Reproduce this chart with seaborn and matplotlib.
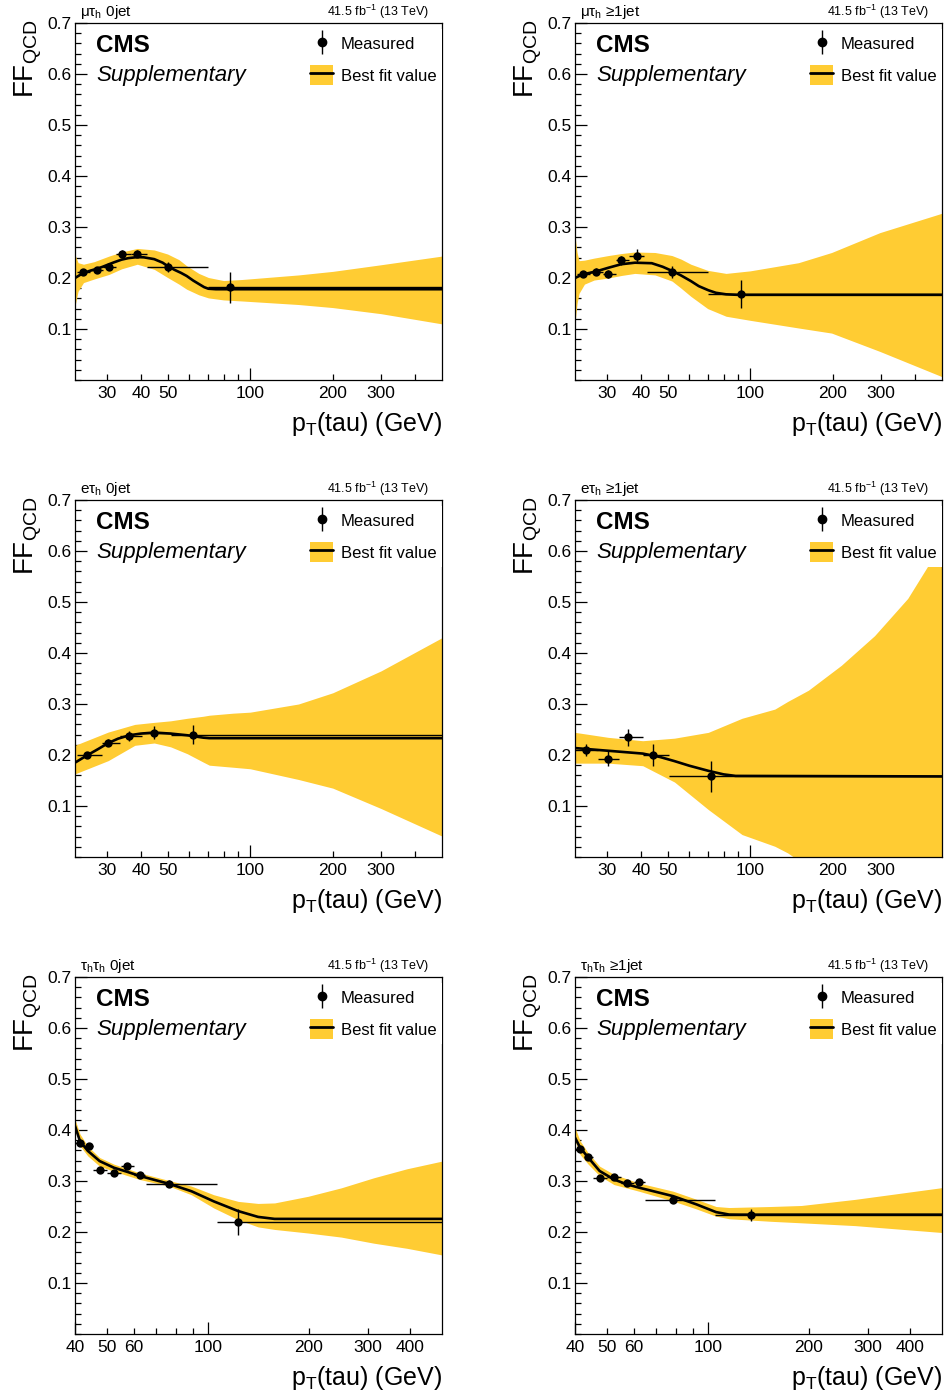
import numpy as np
import matplotlib
matplotlib.use("Agg")
import matplotlib.pyplot as plt
from matplotlib.ticker import FixedLocator, FixedFormatter, MultipleLocator
from matplotlib.lines import Line2D
from matplotlib.patches import Patch
from matplotlib.legend_handler import HandlerTuple
import seaborn as sns

# ---------------- data ----------------
# mu tau_h 0jet
mt0_x = [24.5, 27.6, 30.6, 34.0, 38.8, 50.0, 84.4]
mt0_y = [0.212, 0.215, 0.222, 0.248, 0.248, 0.2215, 0.1815]
mt0_xlo = [23.3, 26.0, 29.0, 32.5, 36.9, 42.1, 70.4]
mt0_xhi = [26.0, 29.0, 32.5, 36.9, 42.1, 70.4, 500]
mt0_yerr = [0.005, 0.005, 0.006, 0.006, 0.007, 0.010, 0.031]
mt0_fit_x = [23, 24.5, 26, 27.6, 29, 30.6, 32, 34, 36, 38.8, 41, 44.7, 48, 50, 53, 56, 58.7, 62, 65.6, 68, 70.4, 75, 500]
mt0_fit_y = [0.200, 0.209, 0.214, 0.218, 0.222, 0.227, 0.231, 0.236, 0.239, 0.241, 0.2405, 0.237, 0.230, 0.2235, 0.216, 0.210, 0.204, 0.195, 0.187, 0.182, 0.179, 0.178, 0.178]
mt0_band_x = [23, 23.6, 24.7, 27, 30.6, 34, 38.8, 44.7, 50, 55, 58.7, 65, 70.4, 80, 93, 150, 200, 300, 500]
mt0_band_hi = [0.246, 0.230, 0.227, 0.232, 0.243, 0.251, 0.258, 0.255, 0.247, 0.236, 0.224, 0.209, 0.201, 0.195, 0.197, 0.206, 0.213, 0.226, 0.243]
mt0_band_lo = [0.145, 0.174, 0.191, 0.198, 0.207, 0.218, 0.227, 0.217, 0.201, 0.188, 0.178, 0.167, 0.161, 0.157, 0.155, 0.148, 0.142, 0.130, 0.110]

# mu tau_h >=1jet
mt1_x = [24.5, 27.5, 30.4, 33.8, 38.6, 51.7, 92.6]
mt1_y = [0.207, 0.212, 0.208, 0.235, 0.243, 0.212, 0.169]
mt1_xlo = [23.3, 26.0, 29.0, 32.4, 36.3, 42.0, 70.0]
mt1_xhi = [26.0, 29.0, 32.4, 36.3, 41.2, 70.0, 500]
mt1_yerr = [0.006, 0.007, 0.008, 0.009, 0.014, 0.012, 0.028]
mt1_fit_x = [23, 24.5, 26, 27.5, 30.4, 33.9, 38, 43.8, 48, 51.9, 56, 60.8, 65, 70.4, 75, 81.7, 90, 500]
mt1_fit_y = [0.200, 0.207, 0.210, 0.213, 0.220, 0.227, 0.230, 0.229, 0.222, 0.214, 0.205, 0.194, 0.184, 0.176, 0.171, 0.168, 0.167, 0.167]
mt1_band_x = [23, 23.4, 23.8, 24.9, 27, 30.4, 34, 38, 45, 51.9, 56, 60.8, 70, 81.7, 100, 150, 198, 297, 500]
mt1_band_hi = [0.283, 0.250, 0.234, 0.235, 0.239, 0.244, 0.248, 0.251, 0.250, 0.244, 0.237, 0.227, 0.215, 0.209, 0.214, 0.230, 0.250, 0.289, 0.327]
mt1_band_lo = [0.112, 0.150, 0.170, 0.188, 0.196, 0.200, 0.205, 0.209, 0.206, 0.194, 0.180, 0.164, 0.140, 0.125, 0.117, 0.102, 0.092, 0.056, 0.0065]

# e tau_h 0jet
et0_x = [25.4, 30.4, 36.3, 44.7, 62.0]
et0_y = [0.2006, 0.224, 0.237, 0.244, 0.240]
et0_xlo = [23.3, 28.8, 33.5, 40.2, 51.3]
et0_xhi = [28.8, 33.5, 40.2, 51.3, 500]
et0_yerr = [0.006, 0.007, 0.010, 0.013, 0.019]
et0_fit_x = [23, 25.4, 28, 30.4, 33, 36.3, 40, 44.7, 51.3, 59, 67.5, 71, 500]
et0_fit_y = [0.185, 0.199, 0.212, 0.2235, 0.232, 0.2387, 0.242, 0.244, 0.242, 0.2387, 0.234, 0.233, 0.233]
et0_band_x = [23, 30.4, 38, 44.7, 51.3, 59, 67.5, 71, 86.6, 100, 150, 200, 300, 500]
et0_band_hi = [0.219, 0.245, 0.260, 0.264, 0.267, 0.272, 0.276, 0.278, 0.282, 0.284, 0.300, 0.322, 0.365, 0.430]
et0_band_lo = [0.163, 0.189, 0.219, 0.2235, 0.216, 0.2025, 0.186, 0.180, 0.176, 0.173, 0.152, 0.135, 0.095, 0.041]

# e tau_h >=1jet
et1_x = [25.3, 30.3, 36.0, 44.3, 71.9]
et1_y = [0.210, 0.193, 0.2346, 0.1998, 0.158]
et1_xlo = [23.0, 27.9, 33.3, 40.6, 50.5]
et1_xhi = [27.9, 33.3, 40.6, 50.8, 500]
et1_yerr = [0.011, 0.014, 0.017, 0.022, 0.031]
et1_fit_x = [23, 30.4, 40.6, 47, 53, 60, 70.4, 80, 88.5, 500]
et1_fit_y = [0.2136, 0.2083, 0.2028, 0.196, 0.188, 0.179, 0.169, 0.162, 0.159, 0.158]
et1_band_x = [23, 30.4, 40.6, 53, 70.4, 93.4, 123, 137, 163, 215, 284, 375, 442, 500]
et1_band_hi = [0.2444, 0.2346, 0.228, 0.233, 0.2444, 0.272, 0.290, 0.305, 0.327, 0.376, 0.434, 0.507, 0.569, 0.62]
et1_band_lo = [0.184, 0.184, 0.179, 0.147, 0.093, 0.044, 0.021, 0.008, -0.02, -0.06, -0.10, -0.15, -0.20, -0.25]

# tau_h tau_h 0jet
tt0_x = [41.4, 44.0, 47.4, 52.3, 57.3, 62.4, 76.4, 123.1]
tt0_y = [0.375, 0.369, 0.3215, 0.315, 0.329, 0.3117, 0.295, 0.220]
tt0_xlo = [40, 42.7, 45.2, 49.9, 54.9, 60.1, 65.0, 106]
tt0_xhi = [42.7, 45.2, 49.9, 54.9, 60.1, 64.8, 106, 500]
tt0_yerr = [0.004, 0.004, 0.004, 0.004, 0.005, 0.005, 0.006, 0.025]
tt0_fit_x = [40, 41.4, 43.7, 47.4, 52.3, 57.3, 62.4, 76.4, 89.1, 104, 123, 141, 158, 500]
tt0_fit_y = [0.408, 0.378, 0.359, 0.339, 0.326, 0.318, 0.310, 0.2945, 0.280, 0.260, 0.241, 0.2296, 0.2257, 0.2257]
tt0_band_x = [40, 41.4, 43.7, 47.4, 52.3, 62.4, 76.4, 89.1, 104, 123, 141, 158, 199, 250, 313, 393, 500]
tt0_band_hi = [0.421, 0.392, 0.368, 0.346, 0.333, 0.316, 0.301, 0.290, 0.273, 0.260, 0.256, 0.257, 0.270, 0.2866, 0.3064, 0.324, 0.339]
tt0_band_lo = [0.402, 0.369, 0.349, 0.329, 0.319, 0.303, 0.290, 0.273, 0.247, 0.224, 0.210, 0.205, 0.198, 0.190, 0.178, 0.168, 0.155]

# tau_h tau_h >=1jet
tt1_x = [41.4, 43.8, 47.4, 52.3, 57.3, 62.1, 78.6, 134.2]
tt1_y = [0.3635, 0.347, 0.305, 0.3077, 0.2966, 0.298, 0.263, 0.233]
tt1_xlo = [40, 42.7, 45.2, 49.9, 54.9, 60.1, 64.8, 105]
tt1_xhi = [42.7, 45.2, 49.9, 54.9, 60.1, 64.8, 105, 500]
tt1_yerr = [0.005, 0.005, 0.005, 0.005, 0.005, 0.006, 0.006, 0.012]
tt1_fit_x = [40, 41.4, 43.8, 47.4, 52.3, 57.3, 62.1, 78.6, 92.4, 105.6, 115.5, 125, 500]
tt1_fit_y = [0.385, 0.366, 0.346, 0.3196, 0.303, 0.2933, 0.287, 0.2703, 0.254, 0.239, 0.2342, 0.234, 0.234]
tt1_band_x = [40, 41.4, 43.8, 47.4, 52.3, 62.1, 78.6, 92.4, 105.6, 115.5, 153.6, 190, 275, 500]
tt1_band_hi = [0.405, 0.379, 0.355, 0.329, 0.313, 0.296, 0.280, 0.264, 0.250, 0.248, 0.250, 0.252, 0.264, 0.287]
tt1_band_lo = [0.379, 0.352, 0.333, 0.310, 0.293, 0.280, 0.2606, 0.245, 0.231, 0.226, 0.221, 0.218, 0.2125, 0.199]

# channel labels and axis setup
titles = ["μτ$_{h}$ 0jet", "μτ$_{h}$ ≥1jet", "eτ$_{h}$ 0jet", "eτ$_{h}$ ≥1jet",
          "τ$_{h}$τ$_{h}$ 0jet", "τ$_{h}$τ$_{h}$ ≥1jet"]
lumi_text = "41.5 fb$^{-1}$ (13 TeV)"
xmin_lt = [23, 23, 23, 23, 40, 40]
xmax = 500
y_ticks = [0.1, 0.2, 0.3, 0.4, 0.5, 0.6, 0.7]
y_tick_labels = ["0.1", "0.2", "0.3", "0.4", "0.5", "0.6", "0.7"]
xticks_lt_minor = [30, 40, 50, 60, 70, 80, 90, 200, 300, 400]
xlabels_lt_minor = ["30", "40", "50", "", "", "", "", "200", "300", ""]
xticks_tt_minor = [50, 60, 70, 80, 90, 200, 300, 400]
xlabels_tt_minor = ["50", "60", "", "", "", "200", "300", "400"]

BAND = "#FFCC33"

# ---------------- style ----------------
sns.set_theme(style="ticks")
plt.rcParams["font.family"] = ["Liberation Sans", "DejaVu Sans"]
plt.rcParams["mathtext.default"] = "regular"
plt.rcParams["axes.linewidth"] = 0.9
plt.rcParams["text.color"] = "black"
plt.rcParams["axes.labelcolor"] = "black"
plt.rcParams["xtick.color"] = "black"
plt.rcParams["ytick.color"] = "black"
plt.rcParams["axes.edgecolor"] = "black"

fig = plt.figure(figsize=(9.44, 14.0), dpi=100)

lefts = [75 / 944, 575 / 944]
width = 367 / 944
bottoms = [1 - 380 / 1400, 1 - 857 / 1400, 1 - 1334 / 1400]
height = 357 / 1400

panels = [
    (mt0_x, mt0_y, mt0_xlo, mt0_xhi, mt0_yerr, mt0_fit_x, mt0_fit_y, mt0_band_x, mt0_band_lo, mt0_band_hi),
    (mt1_x, mt1_y, mt1_xlo, mt1_xhi, mt1_yerr, mt1_fit_x, mt1_fit_y, mt1_band_x, mt1_band_lo, mt1_band_hi),
    (et0_x, et0_y, et0_xlo, et0_xhi, et0_yerr, et0_fit_x, et0_fit_y, et0_band_x, et0_band_lo, et0_band_hi),
    (et1_x, et1_y, et1_xlo, et1_xhi, et1_yerr, et1_fit_x, et1_fit_y, et1_band_x, et1_band_lo, et1_band_hi),
    (tt0_x, tt0_y, tt0_xlo, tt0_xhi, tt0_yerr, tt0_fit_x, tt0_fit_y, tt0_band_x, tt0_band_lo, tt0_band_hi),
    (tt1_x, tt1_y, tt1_xlo, tt1_xhi, tt1_yerr, tt1_fit_x, tt1_fit_y, tt1_band_x, tt1_band_lo, tt1_band_hi),
]

for i, (px, py, xlo, xhi, yerr, fx, fy, bx, blo, bhi) in enumerate(panels):
    row, col = divmod(i, 2)
    ax = fig.add_axes([lefts[col], bottoms[row], width, height])
    ax.set_xscale("log")

    ax.fill_between(bx, blo, bhi, color=BAND, linewidth=0, zorder=1)
    sns.lineplot(x=fx, y=fy, ax=ax, color="black", linewidth=1.9,
                 estimator=None, sort=False, legend=False, zorder=3)
    pxa = np.array(px)
    xerr = [pxa - np.array(xlo), np.array(xhi) - pxa]
    ax.errorbar(px, py, xerr=xerr, yerr=yerr, fmt="none", ecolor="black",
                elinewidth=1.0, capsize=0, zorder=4)
    sns.scatterplot(x=px, y=py, ax=ax, color="black", s=36, edgecolor="black",
                    linewidth=0, zorder=5, legend=False)

    ax.set_xlim(xmin_lt[i], xmax)
    ax.set_ylim(0, 0.7)

    # ticks
    ax.yaxis.set_major_locator(FixedLocator(y_ticks))
    ax.yaxis.set_major_formatter(FixedFormatter(y_tick_labels))
    ax.yaxis.set_minor_locator(MultipleLocator(0.02))
    if row < 2:
        ax.xaxis.set_major_locator(FixedLocator([100]))
        ax.xaxis.set_major_formatter(FixedFormatter(["100"]))
        ax.xaxis.set_minor_locator(FixedLocator(xticks_lt_minor))
        ax.xaxis.set_minor_formatter(FixedFormatter(xlabels_lt_minor))
    else:
        ax.xaxis.set_major_locator(FixedLocator([40, 100]))
        ax.xaxis.set_major_formatter(FixedFormatter(["40", "100"]))
        ax.xaxis.set_minor_locator(FixedLocator(xticks_tt_minor))
        ax.xaxis.set_minor_formatter(FixedFormatter(xlabels_tt_minor))
    ax.tick_params(axis="both", which="both", direction="in", top=False, right=False,
                   labelsize=12.5, colors="black", width=0.9)
    ax.tick_params(axis="both", which="major", length=8.5)
    ax.tick_params(axis="both", which="minor", length=4.3)
    ax.tick_params(axis="x", which="both", pad=4)
    ax.tick_params(axis="y", which="both", pad=2.5)

    # labels
    ax.set_ylabel("FF$_{QCD}$", fontsize=20, loc="top", color="black")
    ax.yaxis.set_label_coords(-0.084, 1.01)
    ax.set_xlabel("p$_{T}$(tau) (GeV)", fontsize=18, loc="right", color="black")
    ax.xaxis.set_label_coords(1.0, -0.085)

    ax.text(0.014, 1.02, titles[i], transform=ax.transAxes, fontsize=11,
            ha="left", va="baseline")
    ax.text(0.965, 1.02, lumi_text, transform=ax.transAxes, fontsize=9,
            ha="right", va="baseline")
    ax.text(0.056, 0.92, "CMS", transform=ax.transAxes, fontsize=17.5,
            fontweight="bold", ha="left", va="baseline")
    ax.text(0.059, 0.838, "Supplementary", transform=ax.transAxes, fontsize=16,
            fontstyle="italic", ha="left", va="baseline")

    h_meas = (Line2D([], [], marker="|", markersize=17, markeredgewidth=1.0,
                     color="black", linestyle="none"),
              Line2D([], [], marker="o", markersize=6, color="black", linestyle="none"))
    h_fit = (Patch(facecolor=BAND, edgecolor="none"),
             Line2D([], [], color="black", linewidth=2.0))
    leg = ax.legend([h_meas, h_fit], ["Measured", "Best fit value"],
                    handler_map={tuple: HandlerTuple(ndivide=1)},
                    loc="upper left", bbox_to_anchor=(0.627, 0.983),
                    borderaxespad=0, borderpad=0.3, fontsize=12,
                    handlelength=1.4, handleheight=1.4, handletextpad=0.45,
                    labelspacing=0.73, frameon=True, fancybox=False)
    leg.get_frame().set_facecolor("white")
    leg.get_frame().set_edgecolor("none")
    leg.get_frame().set_alpha(1)
    leg.set_zorder(10)

fig.savefig("out.png", dpi=100)
